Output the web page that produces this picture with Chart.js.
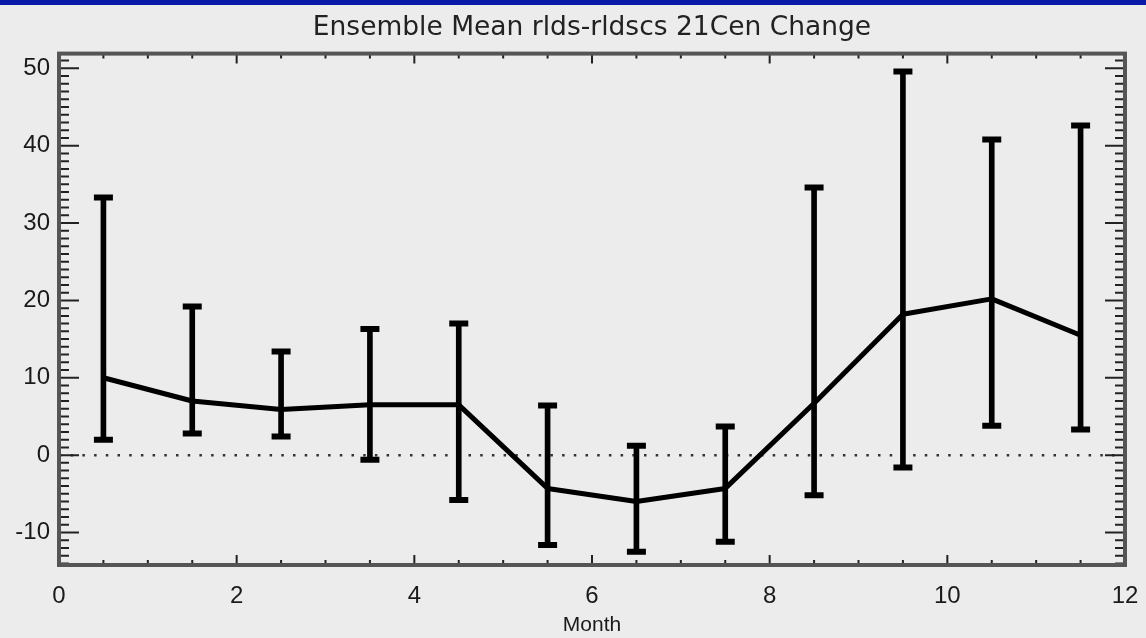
<!DOCTYPE html>
<html>
<head>
<meta charset="utf-8">
<title>Ensemble Mean rlds-rldscs 21Cen Change</title>
<script src="https://cdn.jsdelivr.net/npm/chart.js@4.4.1/dist/chart.umd.min.js"></script>
<style>
    html, body { margin: 0; padding: 0; background: #ececec; }
    #wrap { width: 1146px; height: 638px; }
</style>
</head>
<body>
<div id="wrap"><canvas id="changeChart" width="1146" height="638"></canvas></div>
<script>
// Month centres (x) and the ensemble values
const months = [0.5, 1.5, 2.5, 3.5, 4.5, 5.5, 6.5, 7.5, 8.5, 9.5, 10.5, 11.5];
const meanChange = [10.0, 7.0, 5.9, 6.5, 6.5, -4.3, -6.0, -4.3, 6.7, 18.2, 20.2, 15.5];
const upperChange = [33.3, 19.2, 13.4, 16.3, 17.0, 6.4, 1.2, 3.7, 34.6, 49.6, 40.8, 42.6];
const lowerChange = [2.0, 2.8, 2.4, -0.6, -5.8, -11.6, -12.5, -11.2, -5.2, -1.6, 3.8, 3.3];

// Axis ranges and labels
const xRange = [0, 12];
const yRange = [-14.2, 51.9];
const xTickStep = 2;
const yTickStep = 10;
const xMinorStep = 0.5;
const yMinorStep = 1;
const zeroLevel = 0;

// Background, blue header strip, frame, inward ticks and dotted zero line
const idlFrame = {
    id: 'idlFrame',
    beforeDraw(chart) {
        const ctx = chart.ctx;
        ctx.save();
        ctx.fillStyle = '#ececec';
        ctx.fillRect(0, 0, chart.width, chart.height);
        ctx.fillStyle = '#0a1aa8';
        ctx.fillRect(0, 0, chart.width, 5);
        ctx.restore();
    },
    beforeDatasetsDraw(chart) {
        const ctx = chart.ctx;
        const a = chart.chartArea;
        const xs = chart.scales.x;
        const ys = chart.scales.y;
        ctx.save();

        // dotted zero line
        const y0 = ys.getPixelForValue(zeroLevel);
        ctx.strokeStyle = '#333';
        ctx.lineWidth = 2.5;
        ctx.setLineDash([2.5, 9.2]);
        ctx.beginPath();
        ctx.moveTo(a.left, y0);
        ctx.lineTo(a.right, y0);
        ctx.stroke();
        ctx.setLineDash([]);

        // x ticks, bottom and top
        ctx.strokeStyle = '#222';
        ctx.lineWidth = 2;
        ctx.beginPath();
        for (let v = xRange[0]; v <= xRange[1] + 1e-9; v += xMinorStep) {
            const px = xs.getPixelForValue(v);
            const len = Math.abs(v % xTickStep) < 1e-9 ? 10 : 5;
            ctx.moveTo(px, a.bottom);
            ctx.lineTo(px, a.bottom - len);
            ctx.moveTo(px, a.top);
            ctx.lineTo(px, a.top + len);
        }
        // y ticks, left and right
        for (let v = Math.ceil(yRange[0]); v <= yRange[1]; v += yMinorStep) {
            const py = ys.getPixelForValue(v);
            const len = Math.abs(v % yTickStep) < 1e-9 ? 20 : 10;
            ctx.moveTo(a.left, py);
            ctx.lineTo(a.left + len, py);
            ctx.moveTo(a.right, py);
            ctx.lineTo(a.right - len, py);
        }
        ctx.stroke();

        // plot frame
        ctx.strokeStyle = '#555';
        ctx.lineWidth = 4;
        ctx.strokeRect(a.left, a.top, a.right - a.left, a.bottom - a.top);
        ctx.restore();
    }
};

function initializeChangeChart() {
    const ctx = document.getElementById('changeChart').getContext('2d');

    new Chart(ctx, {
        type: 'line',
        data: {
            datasets: [
                {
                    // error bar stems
                    type: 'bar',
                    data: months.map((m, i) => ({ x: m, y: [lowerChange[i], upperChange[i]] })),
                    backgroundColor: '#000',
                    borderWidth: 0,
                    barThickness: 5
                },
                {
                    // upper caps
                    type: 'scatter',
                    data: months.map((m, i) => ({ x: m, y: upperChange[i] })),
                    pointStyle: 'line',
                    pointRadius: 9.5,
                    pointBorderWidth: 6,
                    borderColor: '#000',
                    backgroundColor: '#000'
                },
                {
                    // lower caps
                    type: 'scatter',
                    data: months.map((m, i) => ({ x: m, y: lowerChange[i] })),
                    pointStyle: 'line',
                    pointRadius: 9.5,
                    pointBorderWidth: 6,
                    borderColor: '#000',
                    backgroundColor: '#000'
                },
                {
                    // ensemble mean
                    type: 'line',
                    data: months.map((m, i) => ({ x: m, y: meanChange[i] })),
                    borderColor: '#000',
                    borderWidth: 5,
                    borderJoinStyle: 'round',
                    tension: 0,
                    pointRadius: 0,
                    fill: false
                }
            ]
        },
        options: {
            responsive: false,
            animation: false,
            events: [],
            layout: {
                padding: { top: 0, left: 0, right: 21, bottom: 0 }
            },
            scales: {
                x: {
                    type: 'linear',
                    offset: false,
                    min: xRange[0],
                    max: xRange[1],
                    afterFit: function(scale) {
                        scale.height = 73;
                        scale.paddingLeft = 0;
                        scale.paddingRight = 0;
                    },
                    grid: { display: false, drawTicks: false, offset: false },
                    border: { display: false },
                    ticks: {
                        stepSize: xTickStep,
                        padding: 17,
                        color: '#1a1a1a',
                        font: { family: 'Liberation Sans', size: 24 }
                    },
                    title: {
                        display: true,
                        text: 'Month',
                        color: '#1a1a1a',
                        padding: { top: 0, bottom: 0 },
                        font: { family: 'Liberation Sans', size: 21 }
                    }
                },
                y: {
                    type: 'linear',
                    min: yRange[0],
                    max: yRange[1],
                    afterFit: function(scale) {
                        scale.width = 59;
                        scale.paddingTop = 0;
                        scale.paddingBottom = 0;
                    },
                    grid: { display: false, drawTicks: false },
                    border: { display: false },
                    ticks: {
                        stepSize: yTickStep,
                        includeBounds: false,
                        padding: 9,
                        color: '#1a1a1a',
                        font: { family: 'Liberation Sans', size: 24 }
                    }
                }
            },
            plugins: {
                legend: {
                    display: false
                },
                tooltip: {
                    enabled: false
                },
                title: {
                    display: true,
                    fullSize: false,
                    text: 'Ensemble Mean rlds-rldscs 21Cen Change',
                    color: '#222',
                    padding: { top: 12.4, bottom: 9.4 },
                    font: { family: 'DejaVu Sans', size: 26.5, weight: 'normal', lineHeight: 1.2 }
                }
            }
        },
        plugins: [idlFrame]
    });
}

document.addEventListener('DOMContentLoaded', function() {
    initializeChangeChart();
});
</script>
</body>
</html>
